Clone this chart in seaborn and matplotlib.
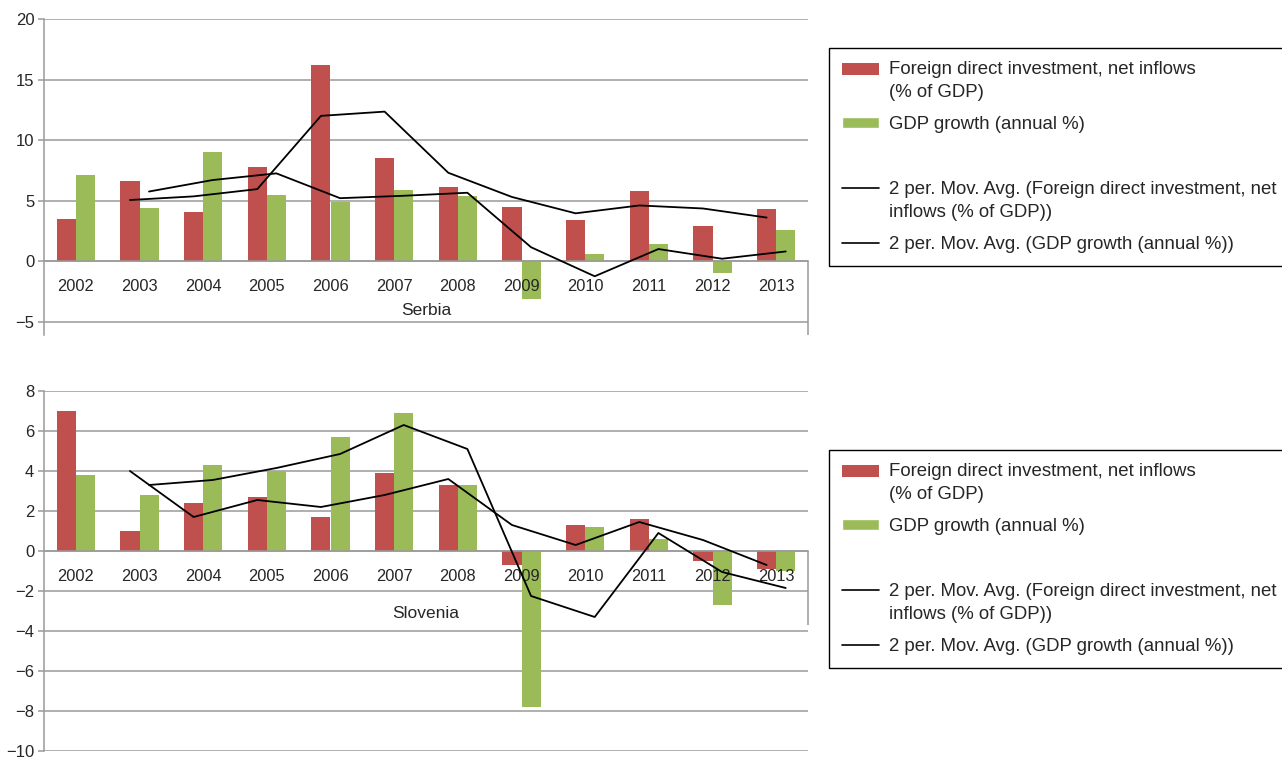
import numpy as np
import pandas as pd
import matplotlib
matplotlib.use("Agg")
import matplotlib.pyplot as plt
import seaborn as sns
from matplotlib.patches import Patch, Rectangle
from matplotlib.lines import Line2D
from matplotlib.legend_handler import HandlerBase

# Datos (% del PIB / % anual)
years = [str(y) for y in range(2002, 2014)]

serbia_fdi = [3.5, 6.6, 4.1, 7.8, 16.2, 8.5, 6.1, 4.5, 3.4, 5.8, 2.9, 4.3]
serbia_gdp = [7.1, 4.4, 9.0, 5.5, 4.9, 5.9, 5.4, -3.1, 0.6, 1.4, -1.0, 2.6]

slovenia_fdi = [7.0, 1.0, 2.4, 2.7, 1.7, 3.9, 3.3, -0.7, 1.3, 1.6, -0.5, -0.9]
slovenia_gdp = [3.8, 2.8, 4.3, 4.0, 5.7, 6.9, 3.3, -7.8, 1.2, 0.6, -2.7, -1.0]

fdi_label = "Foreign direct investment, net inflows\n(% of GDP)"
gdp_label = "GDP growth (annual %)"
ma_fdi_label = "2 per. Mov. Avg. (Foreign direct investment, net\ninflows (% of GDP))"
ma_gdp_label = "2 per. Mov. Avg. (GDP growth (annual %))"

RED = "#C0504D"
GREEN = "#9BBB59"
GRAY = "#9a9a9a"
BAR_WIDTH = 0.6
LEG_FS = 13.4


class FirstLineHandler(HandlerBase):
    """Coloca el símbolo a la altura de la primera línea del texto."""

    def __init__(self, shift_pt=0.0):
        super().__init__()
        self.shift_pt = shift_pt

    def create_artists(self, legend, orig_handle, xdescent, ydescent,
                       width, height, fontsize, trans):
        if isinstance(orig_handle, Line2D):
            y = height / 2 - ydescent + self.shift_pt
            art = Line2D([-xdescent, -xdescent + width], [y, y],
                         color=orig_handle.get_color(),
                         lw=orig_handle.get_linewidth())
        else:
            art = Rectangle((-xdescent, -ydescent + self.shift_pt), width,
                            height, facecolor=orig_handle.get_facecolor(),
                            edgecolor="none")
        art.set_transform(trans)
        return [art]


def draw_country(ax, name, fdi, gdp, ylim, yticks, box_bottom, labelpad):
    df = pd.DataFrame({"year": years, fdi_label: fdi, gdp_label: gdp})
    long = df.melt(id_vars="year", var_name="series", value_name="value")
    sns.barplot(data=long, x="year", y="value", hue="series",
                palette={fdi_label: RED, gdp_label: GREEN}, saturation=1,
                width=BAR_WIDTH, linewidth=0, legend=False, ax=ax, zorder=2)

    # medias móviles de 2 periodos, en la posición de cada barra
    x = np.arange(len(years))
    off = BAR_WIDTH / 4
    ma_fdi = pd.Series(fdi).rolling(2).mean()
    ma_gdp = pd.Series(gdp).rolling(2).mean()
    ax.plot(x - off, ma_fdi, color="black", lw=1.3, zorder=3)
    ax.plot(x + off, ma_gdp, color="black", lw=1.3, zorder=3)

    ax.set_ylim(*ylim)
    ax.set_xlim(-0.5, len(years) - 0.5)
    ax.set_yticks(yticks)
    ax.yaxis.grid(True, color=GRAY, lw=1.1)
    ax.set_axisbelow(True)
    ax.xaxis.set_zorder(2.5)  # etiquetas de años por encima de las barras
    ax.set_ylabel("")

    for s in ["top", "right"]:
        ax.spines[s].set_visible(False)
    ax.spines["left"].set_color(GRAY)
    ax.spines["left"].set_linewidth(1.1)
    ax.spines["bottom"].set_position(("data", 0))
    ax.spines["bottom"].set_color(GRAY)
    ax.spines["bottom"].set_linewidth(1.1)

    ax.set_xticks(np.arange(-0.5, len(years), 1), minor=True)
    ax.tick_params(axis="x", which="major", length=0, pad=13, labelsize=11.8)
    ax.tick_params(axis="x", which="minor", length=26.6, width=1.1,
                   color=GRAY, direction="out")
    ax.tick_params(axis="y", length=4, width=1.1, color=GRAY, pad=3,
                   labelsize=12, left=True)
    ax.vlines(len(years) - 0.5, box_bottom, 0, color=GRAY, lw=1.1,
              clip_on=False)
    ax.set_xlabel(name, fontsize=12.5, labelpad=labelpad)


sns.set_theme(style="white")
plt.rcParams["font.family"] = ["Liberation Sans", "DejaVu Sans"]

fig = plt.figure(figsize=(12.82, 7.57), dpi=100)
W, H = 1282, 757
ax_top = fig.add_axes([44 / W, 1 - 335 / H, 764 / W, 316 / H])
ax_bot = fig.add_axes([44 / W, 1 - 751 / H, 764 / W, 360 / H])

draw_country(ax_top, "Serbia", serbia_fdi, serbia_gdp, (-6.1, 20),
             [-5, 0, 5, 10, 15, 20], -6.1, 0)
draw_country(ax_bot, "Slovenia", slovenia_fdi, slovenia_gdp, (-10, 8),
             list(range(-10, 9, 2)), -3.7, 9.5)

for top_px in [48, 450]:
    h_fdi = Patch(facecolor=RED)
    h_gdp = Patch(facecolor=GREEN)
    h_blank = Line2D([], [], color="none")
    h_ma_fdi = Line2D([], [], color="black", lw=1.2)
    h_ma_gdp = Line2D([], [], color="black", lw=1.2)
    shift = 0.66 * LEG_FS
    leg = fig.legend([h_fdi, h_gdp, h_blank, h_ma_fdi, h_ma_gdp],
                     [fdi_label, gdp_label, " ", ma_fdi_label, ma_gdp_label],
                     handler_map={h_fdi: FirstLineHandler(shift),
                                  h_ma_fdi: FirstLineHandler(shift)},
                     loc="upper left",
                     bbox_to_anchor=(829 / W, 1 - top_px / H),
                     frameon=True, fancybox=False, edgecolor="black",
                     framealpha=1, fontsize=LEG_FS, handlelength=2.0,
                     handleheight=0.6, handletextpad=0.55,
                     labelspacing=0.82, borderpad=0.7, borderaxespad=0)
    leg.get_frame().set_linewidth(1.0)
    for t in leg.get_texts():
        t.set_linespacing(1.45)

fig.savefig("out.png", dpi=100)
